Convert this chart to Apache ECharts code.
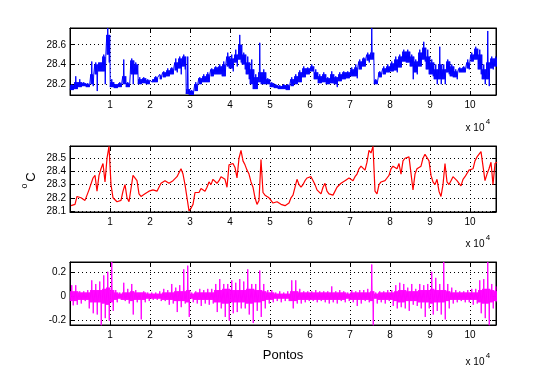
<!DOCTYPE html>
<html><head><meta charset="utf-8">
<script src="https://cdn.jsdelivr.net/npm/echarts@6/dist/echarts.min.js"></script>
<style>html,body{margin:0;padding:0;background:#fff}#c{width:547px;height:389px}</style>
</head><body><div id="c"></div>
<script>
// bin width (points) for the min/max envelope readings
const BIN = 1000;
const xTicks = [1,2,3,4,5,6,7,8,9,10];
const yTicks1 = [28.2, 28.4, 28.6];
const yTicks2 = [28.1, 28.2, 28.3, 28.4, 28.5];
const yTicks3 = [-0.2, 0, 0.2];

// blue: extremes per bin
const blueLo = [28.14,28.15,28.17,28.18,28.17,28.18,28.13,28.33,28.20,28.42,
28.17,28.16,28.17,28.20,28.17,28.20,28.30,28.20,28.21,28.20,
28.22,28.22,28.25,28.27,28.28,28.30,28.32,28.30,28.35,28.09,
28.09,28.13,28.20,28.22,28.22,28.28,28.30,28.30,28.28,28.36,
28.33,28.38,28.42,28.35,28.25,28.15,28.15,28.20,28.20,28.20,
28.17,28.16,28.15,28.15,28.14,28.18,28.20,28.22,28.27,28.30,
28.33,28.25,28.21,28.22,28.20,28.21,28.17,28.23,28.25,28.26,
28.28,28.26,28.35,28.38,28.42,28.45,28.20,28.27,28.30,28.32,
28.33,28.32,28.37,28.43,28.42,28.25,28.30,28.38,28.43,28.30,
28.28,28.20,28.20,28.20,28.30,28.27,28.25,28.32,28.32,28.35,
28.43,28.45,28.30,28.20,28.18,28.35,28.38];
const blueHi = [28.20,28.28,28.25,28.22,28.21,28.43,28.42,28.42,28.50,28.77,
28.25,28.20,28.22,28.45,28.22,28.46,28.42,28.27,28.27,28.25,
28.26,28.28,28.30,28.33,28.36,28.37,28.46,28.48,28.50,28.48,
28.14,28.22,28.27,28.30,28.32,28.36,28.38,28.40,28.43,28.52,
28.50,28.55,28.70,28.52,28.48,28.45,28.30,28.62,28.35,28.26,
28.22,28.20,28.19,28.20,28.20,28.27,28.30,28.34,28.38,28.37,
28.40,28.35,28.30,28.32,28.27,28.33,28.28,28.32,28.33,28.33,
28.37,28.40,28.45,28.47,28.52,28.77,28.25,28.33,28.38,28.40,
28.43,28.48,28.50,28.55,28.55,28.50,28.45,28.55,28.63,28.55,
28.45,28.40,28.58,28.40,28.45,28.40,28.35,28.37,28.38,28.45,
28.52,28.58,28.55,28.40,28.74,28.48,28.48];
// blue: dense core band per bin
const blueCoreLo = [28.14,28.15,28.17,28.18,28.17,28.20,28.30,28.33,28.33,28.50,
28.17,28.16,28.17,28.20,28.17,28.30,28.30,28.20,28.21,28.20,
28.22,28.22,28.25,28.27,28.28,28.30,28.34,28.36,28.38,28.10,
28.09,28.13,28.20,28.22,28.22,28.28,28.30,28.30,28.28,28.38,
28.36,28.42,28.45,28.40,28.30,28.20,28.15,28.22,28.20,28.20,
28.17,28.16,28.15,28.15,28.14,28.18,28.20,28.22,28.27,28.30,
28.33,28.25,28.21,28.22,28.20,28.21,28.20,28.23,28.25,28.26,
28.28,28.28,28.35,28.38,28.44,28.45,28.20,28.27,28.30,28.32,
28.33,28.34,28.37,28.43,28.42,28.38,28.32,28.38,28.45,28.35,
28.30,28.25,28.25,28.25,28.32,28.28,28.27,28.32,28.32,28.36,
28.43,28.45,28.35,28.25,28.25,28.36,28.38];
const blueCoreHi = [28.19,28.22,28.22,28.21,28.20,28.30,28.40,28.42,28.48,28.70,
28.22,28.20,28.21,28.28,28.21,28.44,28.40,28.25,28.26,28.24,
28.25,28.27,28.29,28.32,28.34,28.36,28.42,28.46,28.48,28.15,
28.13,28.20,28.26,28.28,28.30,28.35,28.37,28.38,28.40,28.48,
28.46,28.50,28.60,28.50,28.42,28.35,28.27,28.32,28.32,28.25,
28.21,28.19,28.18,28.19,28.19,28.25,28.28,28.32,28.36,28.36,
28.38,28.32,28.28,28.30,28.26,28.30,28.27,28.30,28.32,28.32,
28.35,28.37,28.43,28.46,28.50,28.52,28.24,28.32,28.36,28.38,
28.41,28.45,28.48,28.53,28.53,28.48,28.43,28.52,28.57,28.48,
28.42,28.35,28.40,28.35,28.43,28.38,28.33,28.36,28.37,28.42,
28.50,28.56,28.50,28.35,28.42,28.46,28.46];

const redLo = [28.14,28.15,28.20,28.18,28.18,28.26,28.25,28.37,28.32,28.50,
28.20,28.17,28.17,28.25,28.17,28.17,28.33,28.21,28.21,28.22,
28.24,28.25,28.28,28.30,28.31,28.31,28.34,28.39,28.30,28.10,
28.12,28.24,28.24,28.25,28.28,28.30,28.31,28.33,28.34,28.28,
28.44,28.35,28.50,28.45,28.38,28.28,28.15,28.18,28.22,28.20,
28.16,28.16,28.15,28.14,28.15,28.20,28.21,28.28,28.30,28.35,
28.36,28.26,28.23,28.28,28.23,28.22,28.21,28.29,28.31,28.33,
28.33,28.36,28.42,28.41,28.47,28.54,28.23,28.30,28.32,28.35,
28.42,28.42,28.38,28.48,28.49,28.26,28.38,28.42,28.50,28.48,
28.32,28.30,28.21,28.30,28.30,28.33,28.33,28.29,28.34,28.35,
28.40,28.48,28.52,28.33,28.38,28.30,28.46];
const redHi = [28.15,28.21,28.21,28.20,28.26,28.35,28.37,28.42,28.46,28.59,
28.30,28.19,28.18,28.30,28.20,28.37,28.36,28.23,28.23,28.25,
28.26,28.27,28.31,28.33,28.33,28.33,28.36,28.42,28.38,28.20,
28.15,28.25,28.27,28.27,28.32,28.34,28.35,28.36,28.37,28.45,
28.46,28.43,28.56,28.48,28.41,28.32,28.20,28.49,28.24,28.22,
28.18,28.17,28.16,28.15,28.16,28.22,28.34,28.30,28.33,28.36,
28.37,28.30,28.25,28.31,28.25,28.24,28.28,28.31,28.33,28.35,
28.36,28.38,28.44,28.43,28.56,28.59,28.25,28.32,28.33,28.37,
28.44,28.44,28.46,28.50,28.51,28.50,28.42,28.44,28.53,28.53,
28.37,28.34,28.25,28.46,28.32,28.36,28.35,28.31,28.36,28.41,
28.42,28.51,28.55,28.44,28.42,28.47,28.47];

const magLo = [-0.075,-0.07,-0.06,-0.04,-0.10,-0.14,-0.15,-0.24,-0.18,-0.20,
-0.12,-0.05,-0.03,-0.04,-0.06,-0.15,-0.05,-0.19,-0.05,-0.04,
-0.03,-0.03,-0.04,-0.04,-0.07,-0.06,-0.13,-0.09,-0.06,-0.17,
-0.05,-0.06,-0.08,-0.06,-0.07,-0.06,-0.13,-0.10,-0.17,-0.20,
-0.14,-0.13,-0.10,-0.10,-0.15,-0.22,-0.12,-0.17,-0.10,-0.06,
-0.05,-0.04,-0.05,-0.04,-0.04,-0.10,-0.06,-0.06,-0.05,-0.04,
-0.04,-0.05,-0.04,-0.05,-0.06,-0.05,-0.06,-0.04,-0.05,-0.04,
-0.05,-0.08,-0.06,-0.04,-0.05,-0.24,-0.06,-0.05,-0.06,-0.04,
-0.08,-0.10,-0.09,-0.10,-0.12,-0.07,-0.08,-0.10,-0.17,-0.10,
-0.15,-0.12,-0.15,-0.19,-0.10,-0.06,-0.05,-0.04,-0.05,-0.05,
-0.07,-0.06,-0.14,-0.18,-0.24,-0.10,-0.05];
const magHi = [0.09,0.09,0.04,0.04,0.05,0.13,0.10,0.12,0.17,0.20,
0.28,0.05,0.03,0.11,0.06,0.10,0.05,0.03,0.04,0.03,
0.03,0.03,0.04,0.06,0.05,0.10,0.07,0.09,0.22,0.25,
0.03,0.04,0.06,0.05,0.06,0.06,0.10,0.14,0.10,0.10,
0.13,0.11,0.14,0.12,0.22,0.10,0.10,0.21,0.10,0.05,
0.05,0.03,0.04,0.03,0.04,0.13,0.13,0.06,0.04,0.04,
0.04,0.05,0.04,0.04,0.04,0.08,0.04,0.05,0.04,0.03,
0.05,0.04,0.05,0.05,0.06,0.26,0.03,0.04,0.04,0.05,
0.05,0.09,0.11,0.10,0.07,0.10,0.06,0.10,0.09,0.10,
0.20,0.15,0.10,0.28,0.10,0.07,0.05,0.04,0.04,0.05,
0.06,0.06,0.13,0.14,0.28,0.10,0.08];
// half-width of the dense core band of the magenta trace, per bin
const magCore = [0.04,0.04,0.03,0.03,0.03,0.05,0.05,0.05,0.06,0.07,
0.05,0.03,0.02,0.03,0.03,0.04,0.03,0.03,0.03,0.02,
0.02,0.02,0.02,0.03,0.03,0.03,0.04,0.04,0.04,0.05,
0.02,0.03,0.03,0.03,0.03,0.03,0.05,0.05,0.06,0.06,
0.05,0.05,0.05,0.05,0.06,0.06,0.05,0.05,0.04,0.03,
0.03,0.02,0.02,0.02,0.02,0.04,0.04,0.03,0.03,0.03,
0.03,0.03,0.03,0.03,0.03,0.03,0.03,0.03,0.03,0.02,
0.03,0.03,0.03,0.03,0.03,0.04,0.02,0.03,0.03,0.03,
0.03,0.04,0.05,0.05,0.04,0.04,0.04,0.05,0.05,0.05,
0.06,0.05,0.05,0.05,0.04,0.03,0.03,0.03,0.03,0.03,
0.03,0.03,0.05,0.06,0.06,0.05,0.04];

// within each bin the trace swings through its core band and touches each read extreme once
function coreAndSpikes(lo, hi, cLo, cHi) {
  const pts = [];
  const k = 8;
  for (let i = 0; i < lo.length; i++) {
    const seq = [cLo[i], cHi[i], cLo[i], hi[i], cLo[i], cHi[i], lo[i], cHi[i]];
    for (let j = 0; j < k; j++) pts.push([i * BIN + (j + 0.5) * BIN / k, seq[j]]);
  }
  return pts;
}
function stepTrace(lo, hi) {
  const pts = [];
  let prev = (lo[0] + hi[0]) / 2;
  for (let i = 0; i < lo.length; i++) {
    const a = lo[i], b = hi[i];
    const first = Math.abs(prev - a) <= Math.abs(prev - b) ? a : b;
    const second = first === a ? b : a;
    pts.push([i * BIN + 250, first], [i * BIN + 750, second]);
    prev = second;
  }
  return pts;
}

const FONT = 'Liberation Sans';
const fmt1 = v => String(Math.round(v * 10) / 10);
const GL = 70, GW = 426;
const grids = [
  {left: GL, width: GW, top: 28, height: 67},
  {left: GL, width: GW, top: 146, height: 66},
  {left: GL, width: GW, top: 262, height: 63}
];
const yRanges = [[28.09, 28.77, yTicks1], [28.092, 28.593, yTicks2], [-0.236, 0.28, yTicks3]];
const XMAX = 106500;

const xAxes = [], yAxes = [];
grids.forEach((g, k) => {
  xAxes.push({
    gridIndex: k, type: 'value', min: 0, max: XMAX, position: 'bottom',
    axisLine: {show: true, onZero: false, lineStyle: {color: '#000', width: 1}},
    axisTick: {show: true, inside: true, length: 4, customValues: xTicks.map(t => t * 1e4), lineStyle: {color: '#000'}},
    axisLabel: {customValues: xTicks.map(t => t * 1e4), formatter: v => String(Math.round(v / 1e4)), color: '#000', fontFamily: FONT, fontSize: 10, margin: 5},
    splitLine: {show: true, lineStyle: {color: '#000', type: [1, 3], width: 1}}
  });
  xAxes.push({
    gridIndex: k, type: 'value', min: 0, max: XMAX, position: 'top',
    axisLine: {show: true, onZero: false, lineStyle: {color: '#000'}},
    axisTick: {show: true, inside: true, length: 4, customValues: xTicks.map(t => t * 1e4), lineStyle: {color: '#000'}},
    axisLabel: {show: false}, splitLine: {show: false}
  });
  const [mn, mx, ticks] = yRanges[k];
  yAxes.push({
    gridIndex: k, type: 'value', min: mn, max: mx, position: 'left',
    axisLine: {show: true, onZero: false, lineStyle: {color: '#000'}},
    axisTick: {show: true, inside: true, length: 4, customValues: ticks, lineStyle: {color: '#000'}},
    axisLabel: {customValues: ticks, formatter: fmt1, color: '#000', fontFamily: FONT, fontSize: 10, margin: 4},
    splitLine: {show: true, lineStyle: {color: '#000', type: [1, 3], width: 1}}
  });
  yAxes.push({
    gridIndex: k, type: 'value', min: mn, max: mx, position: 'right',
    axisLine: {show: true, onZero: false, lineStyle: {color: '#000'}},
    axisTick: {show: true, inside: true, length: 4, customValues: ticks, lineStyle: {color: '#000'}},
    axisLabel: {show: false}, splitLine: {show: false}
  });
});

const mk = (k, data, color, w) => ({
  type: 'line', xAxisIndex: 2 * k, yAxisIndex: 2 * k, data, showSymbol: false, symbol: 'none',
  lineStyle: {color, width: w}, itemStyle: {color}, animation: false, silent: true, clip: true
});

const tx = (x, y, text, size, extra) => Object.assign({
  type: 'text', x, y, style: {text, fill: '#000', font: size + 'px "' + FONT + '"', align: 'center', verticalAlign: 'middle'}
}, extra || {});

const graphics = [
  tx(283, 355, 'Pontos', 13),
  tx(31, 177, 'C', 13, {rotation: Math.PI / 2}),
  tx(24.5, 186, 'o', 9, {rotation: Math.PI / 2})
];
[128, 244, 362].forEach(y => {
  graphics.push(tx(475, y, 'x 10', 10));
  graphics.push(tx(488, y - 6, '4', 8));
});

const magNeg = magCore.map(v => -v);
const chart = echarts.init(document.getElementById('c'), null, {renderer: 'canvas'});
chart.setOption({
  animation: false,
  backgroundColor: '#fff',
  grid: grids.map(g => Object.assign({show: true, borderColor: '#000', borderWidth: 1, backgroundColor: '#fff', containLabel: false}, g)),
  xAxis: xAxes,
  yAxis: yAxes,
  series: [
    mk(0, coreAndSpikes(blueLo, blueHi, blueCoreLo, blueCoreHi), '#0000ff', 1),
    mk(1, stepTrace(redLo, redHi), '#ff0000', 1.2),
    mk(2, coreAndSpikes(magLo, magHi, magNeg, magCore), '#ff00ff', 1)
  ],
  graphic: graphics
});
</script></body></html>
